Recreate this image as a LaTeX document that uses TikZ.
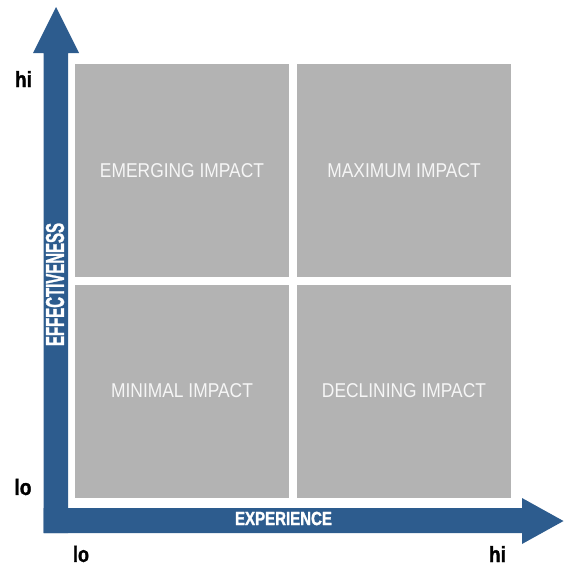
\documentclass[tikz,border=0pt]{standalone}
\usepackage{fontspec}
\setmainfont{Liberation Sans}
\newfontfamily\quadfont[FakeStretch=0.87]{Liberation Sans}
\newfontfamily\axisfont[FakeBold=1.6]{Liberation Sans Bold}
\definecolor{axisblue}{RGB}{45,92,142}
\definecolor{quadgrey}{RGB}{179,179,179}
\definecolor{quadtext}{RGB}{246,246,246}
\begin{document}
\begin{tikzpicture}[x=1pt,y=-1pt,
  quad/.style={fill=quadgrey, minimum width=214pt, minimum height=213pt,
    inner sep=0pt, text=quadtext, font=\quadfont\fontsize{20}{24}\selectfont},
  axislabel/.style={inner sep=0pt, text=black, font=\axisfont},
  axisname/.style={inner sep=0pt, text=white, font=\axisfont},
  axisarrow/.style={fill=axisblue},
]
\useasboundingbox (0,0) rectangle (564,565);

% quadrants
\node[quad] (emerging)  at (182,170.5) {EMERGING IMPACT};
\node[quad] (maximum)   at (404,170.5) {MAXIMUM IMPACT};
\node[quad] (minimal)   at (182,391)   {MINIMAL IMPACT};
\node[quad] (declining) at (404,391)   {DECLINING IMPACT};

% vertical axis arrow
\fill[axisarrow] (43.5,533) -- (43.5,53) -- (33,53) -- (56,7) -- (79,53)
  -- (68,53) -- (68,533) -- cycle;
% horizontal axis arrow
\fill[axisarrow] (43.5,508) -- (522,508) -- (522,498) -- (563.5,521)
  -- (522,544) -- (522,533) -- (43.5,533) -- cycle;

% axis names
\node[axisname, rotate=90] (effectiveness) at (55,284.5)
  {\resizebox{123pt}{18pt}{EFFECTIVENESS}};
\node[axisname] (experience) at (283.5,518.5)
  {\resizebox{97pt}{13.3pt}{EXPERIENCE}};

% scale ends
\node[axislabel] (yhi) at (23.5,79)  {\resizebox{17pt}{16pt}{hi}};
\node[axislabel] (ylo) at (23,487)   {\resizebox{17pt}{16pt}{lo}};
\node[axislabel] (xlo) at (81,554)   {\resizebox{16pt}{16pt}{lo}};
\node[axislabel] (xhi) at (497.5,554) {\resizebox{17pt}{16pt}{hi}};
\end{tikzpicture}
\end{document}
